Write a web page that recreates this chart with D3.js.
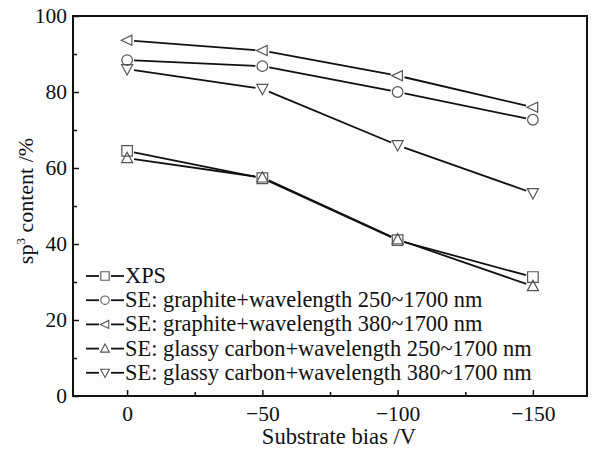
<!DOCTYPE html>
<html><head><meta charset="utf-8">
<script src="https://cdn.jsdelivr.net/npm/d3@7/dist/d3.min.js"></script>
</head><body><div id="chart"></div>
<script>
// Substrate bias (V) and sp3 fraction (%) for each measurement method
const bias = [0, -50, -100, -150];
const xps = [64.5, 57.3, 41.0, 31.3];
const seGraphite250 = [88.4, 86.8, 80.0, 72.7];
const seGraphite380 = [93.6, 90.9, 84.3, 76.0];
const seGlassy250 = [62.6, 57.5, 41.2, 28.9];
const seGlassy380 = [86.0, 80.8, 66.0, 53.4];
const xTicks = [0, -50, -100, -150];
const yTicks = [0, 20, 40, 60, 80, 100];

const series = [
  {name: "XPS", values: xps, shape: "square"},
  {name: "SE: graphite+wavelength 250~1700 nm", values: seGraphite250, shape: "circle"},
  {name: "SE: graphite+wavelength 380~1700 nm", values: seGraphite380, shape: "left"},
  {name: "SE: glassy carbon+wavelength 250~1700 nm", values: seGlassy250, shape: "up"},
  {name: "SE: glassy carbon+wavelength 380~1700 nm", values: seGlassy380, shape: "down"}
];

const FONT = '"Liberation Serif"';
const W = 596, H = 451;
const m = {left: 73, top: 16, right: 9, bottom: 55};
d3.select("body").style("margin", "0").style("background", "#fdfdfd");
const svg = d3.select("#chart").append("svg").attr("width", W).attr("height", H).style("display", "block");
const x = d3.scaleLinear().domain([20, -170]).range([m.left, W - m.right]);
const y = d3.scaleLinear().domain([0, 100]).range([H - m.bottom, m.top]);

// marker path generator, r = half size
function marker(shape, r) {
  switch (shape) {
    case "square": return `M${-r},${-r}H${r}V${r}H${-r}Z`;
    case "circle": return `M${r},0A${r},${r} 0 1,1 ${-r},0A${r},${r} 0 1,1 ${r},0Z`;
    case "left": return `M${-r*1.1},0L${r*0.9},${-r*0.95}L${r*0.9},${r*0.95}Z`;
    case "up": return `M0,${-r*1.1}L${r*1.05},${r*0.85}L${-r*1.05},${r*0.85}Z`;
    case "down": return `M0,${r*1.1}L${r*1.05},${-r*0.85}L${-r*1.05},${-r*0.85}Z`;
  }
}

// axes with inward ticks
svg.append("g").attr("transform", `translate(0,${H - m.bottom})`)
  .call(d3.axisBottom(x).tickValues(xTicks).tickSize(-6).tickPadding(10).tickFormat(d => d === 0 ? "0" : "\u2212" + Math.abs(d)));
svg.append("g").attr("transform", `translate(0,${H - m.bottom})`)
  .call(d3.axisBottom(x).tickValues([-25, -75, -125]).tickSize(-4).tickFormat(""));
svg.append("g").attr("transform", `translate(${m.left},0)`)
  .call(d3.axisLeft(y).tickValues(yTicks).tickSize(-6).tickPadding(6));
svg.append("g").attr("transform", `translate(${m.left},0)`)
  .call(d3.axisLeft(y).tickValues([10, 30, 50, 70, 90]).tickSize(-4).tickFormat(""));
svg.selectAll(".domain").remove();
svg.selectAll(".tick line").attr("stroke", "#111").attr("stroke-width", 1.5);
svg.selectAll(".tick text").attr("font-size", 21.5);

// frame
svg.append("rect").attr("x", m.left).attr("y", m.top)
  .attr("width", W - m.left - m.right).attr("height", H - m.top - m.bottom)
  .attr("fill", "none").attr("stroke", "#111").attr("stroke-width", 2);

// series lines, broken at markers
const gap = 7;
series.forEach(s => {
  const pts = bias.map((b, i) => [x(b), y(s.values[i])]);
  for (let i = 0; i < pts.length - 1; i++) {
    const [x0, y0] = pts[i], [x1, y1] = pts[i + 1];
    const dx = x1 - x0, dy = y1 - y0, L = Math.hypot(dx, dy);
    svg.append("line")
      .attr("x1", x0 + dx / L * gap).attr("y1", y0 + dy / L * gap)
      .attr("x2", x1 - dx / L * gap).attr("y2", y1 - dy / L * gap)
      .attr("stroke", "#111").attr("stroke-width", 1.8);
  }
  svg.selectAll(null).data(pts).enter().append("path")
    .attr("transform", d => `translate(${d[0]},${d[1]})`)
    .attr("d", marker(s.shape, 5.3))
    .attr("fill", "none").attr("stroke", "#555").attr("stroke-width", 1.2);
});

// legend
const leg = svg.append("g");
series.forEach((s, i) => {
  const ly = 276 + i * 24.2;
  leg.append("line").attr("x1", 86).attr("x2", 99).attr("y1", ly).attr("y2", ly).attr("stroke", "#111").attr("stroke-width", 1.8);
  leg.append("line").attr("x1", 111).attr("x2", 124).attr("y1", ly).attr("y2", ly).attr("stroke", "#111").attr("stroke-width", 1.8);
  leg.append("path").attr("transform", `translate(105,${ly})`).attr("d", marker(s.shape, 4.2))
    .attr("fill", "none").attr("stroke", "#555").attr("stroke-width", 1.1);
  leg.append("text").attr("x", 125).attr("y", ly + 7).attr("font-size", 22.4).text(s.name);
});

// axis titles
svg.append("text").attr("x", 339).attr("y", 444).attr("text-anchor", "middle").attr("font-size", 22.6).text("Substrate bias /V");
const yt = svg.append("text").attr("transform", "translate(33,201) rotate(-90)").attr("text-anchor", "middle").attr("font-size", 22);
yt.append("tspan").text("sp");
yt.append("tspan").attr("font-size", 13).attr("dy", -8).text("3");
yt.append("tspan").attr("dy", 8).text(" content /%");

svg.selectAll("text").style("font-family", FONT).attr("fill", "#111");
</script></body></html>
